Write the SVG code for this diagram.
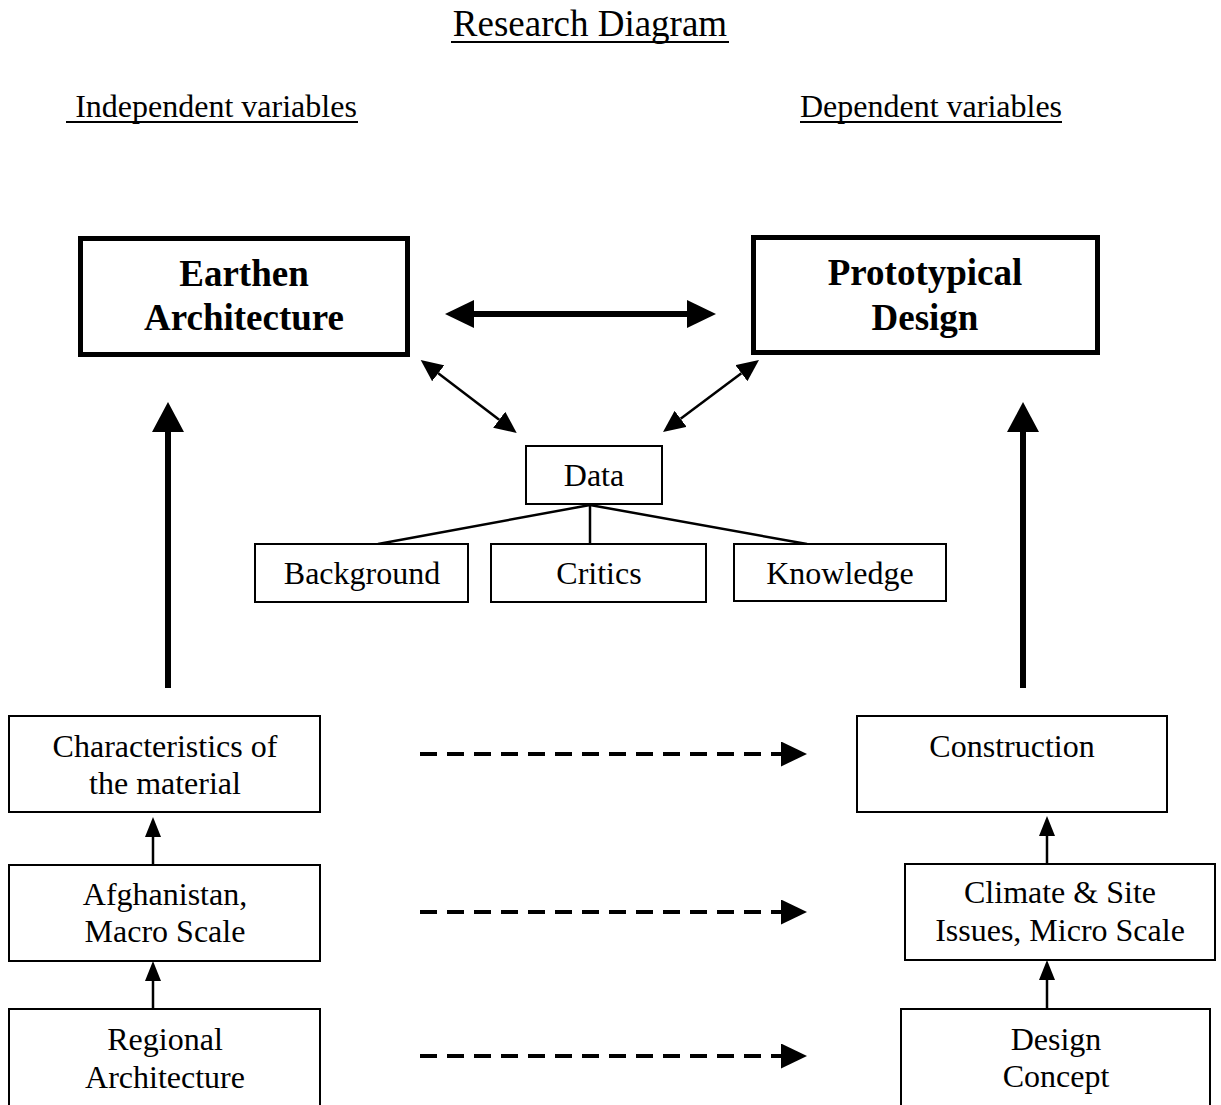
<svg xmlns="http://www.w3.org/2000/svg" width="1221" height="1105" viewBox="0 0 1221 1105">
<style>
text{font-family:"Liberation Serif","Times New Roman",serif;fill:#000;text-anchor:middle}
.t{font-size:32px}
.b{font-size:37px;font-weight:bold}
.h{font-size:32px}
.ti{font-size:37px}
.box{fill:#fff;stroke:#000;stroke-width:2}
.thick{fill:#fff;stroke:#000;stroke-width:5}
.ul{stroke:#000;stroke-width:2}
.ln{stroke:#000;stroke-width:2.5;fill:none}
.big{stroke:#000;stroke-width:6;fill:none}
.dash{stroke:#000;stroke-width:4;stroke-dasharray:17 10;fill:none}
</style>
<defs>
<marker id="bigH" markerUnits="userSpaceOnUse" viewBox="0 0 29 28" markerWidth="29" markerHeight="28" refX="0" refY="14" orient="auto-start-reverse"><path d="M0,0 L29,14 L0,28 z" fill="#000"/></marker>
<marker id="bigV" markerUnits="userSpaceOnUse" viewBox="0 0 30 32" markerWidth="30" markerHeight="32" refX="0" refY="16" orient="auto-start-reverse"><path d="M0,0 L30,16 L0,32 z" fill="#000"/></marker>
<marker id="thin" markerUnits="userSpaceOnUse" viewBox="0 0 22 20" markerWidth="22" markerHeight="20" refX="0" refY="10" orient="auto-start-reverse"><path d="M0,0 L22,10 L0,20 z" fill="#000"/></marker>
<marker id="small" markerUnits="userSpaceOnUse" viewBox="0 0 20 16" markerWidth="20" markerHeight="16" refX="0" refY="8" orient="auto-start-reverse"><path d="M0,0 L20,8 L0,16 z" fill="#000"/></marker>
<marker id="dashH" markerUnits="userSpaceOnUse" viewBox="0 0 26 25" markerWidth="26" markerHeight="25" refX="0" refY="12.5" orient="auto"><path d="M0,0 L26,12.5 L0,25 z" fill="#000"/></marker>
</defs>
<rect width="1221" height="1105" fill="#fff"/>
<g id="headings">
<text class="ti" x="590" y="36">Research Diagram</text>
<line class="ul" x1="451" y1="42" x2="729" y2="42"/>
<text class="h" x="216" y="117">Independent variables</text>
<line class="ul" x1="66" y1="122" x2="358" y2="122"/>
<text class="h" x="931" y="117">Dependent variables</text>
<line class="ul" x1="800" y1="122" x2="1062" y2="122"/>
</g>
<g id="connectors">
<line class="big" x1="474" y1="314" x2="687" y2="314" marker-start="url(#bigH)" marker-end="url(#bigH)"/>
<line class="ln" x1="438.2" y1="373.3" x2="499.2" y2="419.7" marker-start="url(#thin)" marker-end="url(#thin)"/>
<line class="ln" x1="741.4" y1="373.2" x2="680.6" y2="418.8" marker-start="url(#thin)" marker-end="url(#thin)"/>
<line class="ln" x1="590" y1="505" x2="378" y2="544"/>
<line class="ln" x1="590" y1="505" x2="590" y2="544"/>
<line class="ln" x1="590" y1="505" x2="807" y2="544"/>
<line class="big" x1="168" y1="688" x2="168" y2="432" marker-end="url(#bigV)"/>
<line class="big" x1="1023" y1="688" x2="1023" y2="432" marker-end="url(#bigV)"/>
<line class="ln" x1="153" y1="865" x2="153" y2="837" marker-end="url(#small)"/>
<line class="ln" x1="153" y1="1009" x2="153" y2="981" marker-end="url(#small)"/>
<line class="ln" x1="1047" y1="864" x2="1047" y2="836" marker-end="url(#small)"/>
<line class="ln" x1="1047" y1="1009" x2="1047" y2="980" marker-end="url(#small)"/>
<line class="dash" x1="420" y1="754" x2="781" y2="754" marker-end="url(#dashH)"/>
<line class="dash" x1="420" y1="912" x2="781" y2="912" marker-end="url(#dashH)"/>
<line class="dash" x1="420" y1="1056" x2="781" y2="1056" marker-end="url(#dashH)"/>
</g>
<g id="earthen">
<rect class="thick" x="80.5" y="238.5" width="327" height="116"/>
<text class="b" x="244" y="286">Earthen</text>
<text class="b" x="244" y="330">Architecture</text>
</g>
<g id="prototypical">
<rect class="thick" x="753.5" y="237.5" width="344" height="115"/>
<text class="b" x="925" y="285">Prototypical</text>
<text class="b" x="925" y="330">Design</text>
</g>
<g id="data">
<rect class="box" x="526" y="446" width="136" height="58"/>
<text class="t" x="594" y="486">Data</text>
</g>
<g id="background">
<rect class="box" x="255" y="544" width="213" height="58"/>
<text class="t" x="362" y="584">Background</text>
</g>
<g id="critics">
<rect class="box" x="491" y="544" width="215" height="58"/>
<text class="t" x="599" y="584">Critics</text>
</g>
<g id="knowledge">
<rect class="box" x="734" y="544" width="212" height="57"/>
<text class="t" x="840" y="584">Knowledge</text>
</g>
<g id="characteristics">
<rect class="box" x="9" y="716" width="311" height="96"/>
<text class="t" x="165" y="757">Characteristics of</text>
<text class="t" x="165" y="794">the material</text>
</g>
<g id="afghanistan">
<rect class="box" x="9" y="865" width="311" height="96"/>
<text class="t" x="165" y="905">Afghanistan,</text>
<text class="t" x="165" y="942">Macro Scale</text>
</g>
<g id="regional">
<rect class="box" x="9" y="1009" width="311" height="100"/>
<text class="t" x="165" y="1050">Regional</text>
<text class="t" x="165" y="1088">Architecture</text>
</g>
<g id="construction">
<rect class="box" x="857" y="716" width="310" height="96"/>
<text class="t" x="1012" y="757">Construction</text>
</g>
<g id="climate">
<rect class="box" x="905" y="864" width="310" height="96"/>
<text class="t" x="1060" y="903">Climate &amp; Site</text>
<text class="t" x="1060" y="941">Issues, Micro Scale</text>
</g>
<g id="design">
<rect class="box" x="901" y="1009" width="309" height="100"/>
<text class="t" x="1056" y="1050">Design</text>
<text class="t" x="1056" y="1087">Concept</text>
</g>
</svg>
